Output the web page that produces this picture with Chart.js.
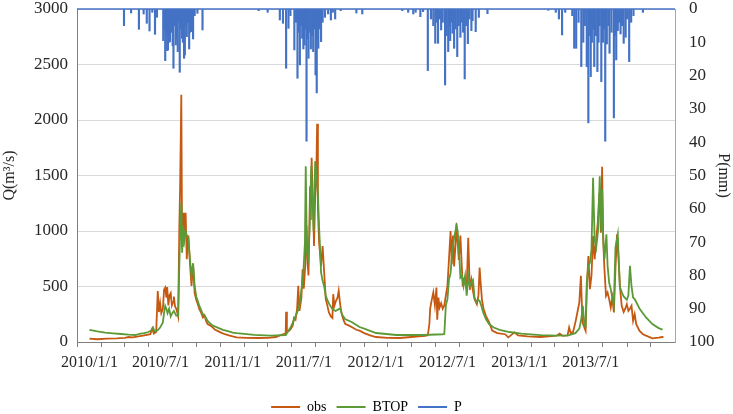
<!DOCTYPE html>
<html>
<head>
<meta charset="utf-8">
<script src="https://cdn.jsdelivr.net/npm/chart.js@4.4.0/dist/chart.umd.min.js"></script>
<style>
  html, body { margin: 0; padding: 0; background: #fff; }
  #wrap { width: 733px; height: 414px; }
</style>
</head>
<body>
<div id="wrap"><canvas id="c"></canvas></div>
<script>
// days counted from 2010/1/1
const obsDay = [0,20,45,70,90,100,110,125,140,155,160,164,170,174,177,180,183,187,190,193,196,198,201,204,207,210,213,215,218,221,224,226,229,231,234,236,238,240,242,245,248,250,252,256,260,264,268,272,276,280,285,289,293,297,301,307,313,320,325,335,345,355,365,
  375,400,430,455,475,485,495,500,501,503,508,513,518,521,525,529,532,535,537,540,543,546,550,553,556,558,562,564,566,568,570,572,575,578,580,582,585,588,590,594,598,602,606,610,615,619,621,624,628,632,635,638,641,644,648,652,660,668,680,688,700,715,730,760,790,
  820,840,855,862,866,868,872,876,880,884,886,889,892,896,900,904,908,912,916,920,923,926,929,933,935,938,941,945,947,951,953,957,961,965,969,973,977,981,987,991,994,996,1000,1004,1010,1018,1026,1039,1059,1067,1083,1092,1116,1149,1170,1190,1198,1206,1218,1222,1226,1232,1238,1243,1248,1252,1256,1261,1264,1267,1271,1275,1279,1283,1287,1291,1295,1299,1303,1306,1309,1312,1316,1320,1324,1328,1332,1336,1340,1344,1348,1352,1356,1361,1365,1369,1373,1377,1381,1385,1389,1393,1401,1410,1418,1434,1450,1459,1460];
const obsQ = [30,25,30,32,38,45,42,50,60,70,120,75,90,460,270,350,260,300,470,490,400,495,330,420,440,330,360,410,320,300,260,230,1045,1400,2228,865,1000,1165,1000,1165,745,900,960,710,505,700,440,380,340,296,260,221,240,190,162,150,135,110,102,85,70,60,50,
  42,38,36,38,45,60,70,80,272,90,100,117,150,216,200,300,506,280,326,400,655,480,700,1045,700,600,1404,1100,1659,1400,1224,865,1300,1500,1967,1195,895,775,686,865,626,386,330,266,230,216,431,326,371,400,461,360,280,236,190,162,150,135,110,102,80,60,45,38,36,
  45,50,55,60,162,300,380,446,330,491,200,400,310,350,300,330,420,506,750,1000,700,960,680,900,1069,900,740,960,800,500,560,530,480,940,470,560,460,386,340,420,671,560,380,300,236,180,102,80,70,42,87,60,50,45,50,57,75,55,60,132,80,90,177,266,356,596,177,130,102,476,775,476,600,955,745,925,1075,1344,985,1578,900,656,416,446,386,311,400,266,656,970,740,476,326,270,300,341,280,300,326,191,251,161,102,70,57,33,40,45,55];

const simDay = [0,20,40,60,80,100,117,130,140,150,156,162,166,170,175,180,187,190,193,196,199,203,207,211,215,221,226,229,232,234,236,239,242,245,248,252,256,260,264,268,272,280,289,295,301,313,325,340,355,365,
  375,420,460,480,500,513,521,529,533,537,541,545,549,551,554,558,561,565,568,571,575,579,582,585,588,590,594,598,602,606,611,619,627,635,639,643,651,668,688,700,730,782,850,900,904,
  908,912,916,920,924,929,935,938,942,945,949,953,957,961,965,969,973,977,981,986,990,994,998,1003,1010,1018,1030,1045,1070,1100,1150,1190,1220,1238,1248,1253,1257,1261,1264,1267,1271,1275,1279,1283,1287,1291,1296,1300,1304,1306,1309,1312,1317,1320,1324,1328,1332,1336,1340,1346,1351,1357,1361,1369,1373,1377,1381,1385,1389,1393,1402,1418,1434,1450,1460];
const simQ = [110,95,85,78,72,66,63,75,80,90,100,132,95,100,110,130,177,260,326,300,260,300,230,260,280,237,237,700,1100,1255,805,1045,920,1000,960,930,745,596,710,505,410,326,250,230,190,150,132,110,95,85,
  80,65,58,60,63,135,200,266,300,386,500,626,900,1584,805,745,1036,1584,1300,1000,1629,1500,1344,1036,805,626,551,500,416,380,341,296,280,296,302,251,207,180,135,120,81,63,63,70,72,
  330,386,566,620,800,940,1045,1000,800,580,596,506,596,417,596,500,540,560,400,360,380,370,330,266,207,162,130,110,90,75,62,57,60,80,120,207,326,147,140,536,686,715,835,1479,925,850,1015,1494,1000,1374,926,745,970,686,536,476,400,330,850,970,500,440,410,380,420,686,500,401,386,360,296,221,162,125,111];

const rainDay = [88,106,126,138,146,153,160,167,172,188,190,193,196,198,200,203,205,208,210,212,214,217,220,222,225,227,230,233,236,238,241,243,245,248,251,254,256,257,260,262,264,268,275,288,
  431,454,485,493,501,507,512,522,526,530,533,536,539,542,545,548,550,553,556,558,561,564,567,570,573,576,579,581,583,586,590,594,600,608,615,620,626,640,680,695,
  797,812,825,831,843,850,862,870,876,881,884,888,892,896,900,906,910,914,917,919,922,925,929,933,937,941,945,948,952,956,960,964,968,973,976,984,992,1014,
  1169,1188,1196,1204,1212,1230,1235,1240,1246,1253,1258,1262,1267,1271,1274,1277,1280,1283,1286,1290,1294,1297,1300,1304,1308,1311,1314,1318,1322,1325,1330,1336,1339,1342,1346,1349,1353,1357,1361,1366,1370,1375,1380,1386,1410];
const rainP = [5.0,1.2,6.1,1.5,4.3,6.6,1.0,7.6,2.5,9.5,6,15.5,8,12.5,12.3,10,9.8,7,4,11,17.8,5,10.8,9,12.8,4,19,6,8.8,10,14.8,13.8,5,8.3,4,12,7,3,6.8,4,9,2,1.3,6.3,
  0.5,1,3.3,4.3,17.8,5.8,2,12.3,4,20.8,7,16.8,5,8.8,12,10.8,6,39.7,9,14.8,7,12,8,12.8,6,19.8,25.2,9,11.8,6,9.8,4,2.5,1.5,3.3,1,3,0.5,1.2,1.5,
  0.5,1,1.5,1,2.3,0.8,18.5,3,5,10.3,4,10.3,3,6.3,4,22.8,8,12.8,5,9.5,4,7.3,11.8,6,14.3,5,8.5,4,7,21,5,10.4,3,6.5,3.5,6.8,2.5,1.4,
  0.4,1,3,7.8,1,2,11.8,11.8,4,17.3,10,5,17.3,34.2,8,20.3,10,6,17.3,8,18.8,10,5,21.8,10,6,39.7,10.5,5,13.3,7,32.7,8,15.3,6.5,4,7.5,5,10.3,8.5,3,15.8,4,2,1];

const seriesNames = ["obs", "BTOP", "P"];
const seriesColors = ["#C65911", "#5B9A36", "#4472C4"];

const START = Date.UTC(2010, 0, 1);
function dayOf(y, m) { return Math.round((Date.UTC(y, m, 1) - START) / 86400000); }
const xTicks = [];
for (let y = 2010; y <= 2013; y++) {
  for (let m = 0; m < 12; m += 2) xTicks.push({ value: dayOf(y, m) });
}

const pairs = (xs, ys) => xs.map((x, i) => ({ x: x, y: ys[i] }));
const serif = "'Liberation Serif', 'Times New Roman', serif";
const txt = "#262626";

// the P series' zero line along the top of the plot
const rainBaseline = {
  id: "rainBaseline",
  afterDatasetsDraw(chart) {
    const { ctx, chartArea, scales } = chart;
    const y = scales.yP.getPixelForValue(0);
    ctx.save();
    ctx.strokeStyle = seriesColors[2];
    ctx.lineWidth = 1.5;
    ctx.beginPath();
    ctx.moveTo(chartArea.left, y);
    ctx.lineTo(chartArea.right, y);
    ctx.stroke();
    ctx.restore();
  }
};

const noEdgePad = (axis, w) => {
  axis.width = w;
  axis.paddingTop = 0;
  axis.paddingBottom = 0;
};

new Chart(document.getElementById("c"), {
  type: "line",
  data: {
    datasets: [
      { label: seriesNames[0], data: pairs(obsDay, obsQ), borderColor: seriesColors[0], backgroundColor: seriesColors[0],
        borderWidth: 1.8, pointRadius: 0, yAxisID: "y", order: 2 },
      { label: seriesNames[1], data: pairs(simDay, simQ), borderColor: seriesColors[1], backgroundColor: seriesColors[1],
        borderWidth: 1.8, pointRadius: 0, yAxisID: "y", order: 1 },
      { type: "bar", label: seriesNames[2], data: pairs(rainDay, rainP), borderColor: seriesColors[2], backgroundColor: seriesColors[2],
        borderWidth: 0, barThickness: 1.5, yAxisID: "yP", order: 3 }
    ]
  },
  options: {
    responsive: true,
    maintainAspectRatio: false,
    animation: false,
    layout: { padding: { top: 9, bottom: -10 } },
    plugins: {
      tooltip: { enabled: false },
      legend: {
        position: "bottom",
        labels: {
          font: { family: serif, size: 14 },
          color: txt,
          usePointStyle: true,
          pointStyleWidth: 29,
          padding: 10,
          generateLabels: (chart) => chart.data.datasets.map((ds, i) => ({
            text: ds.label, fillStyle: seriesColors[i], strokeStyle: seriesColors[i],
            lineWidth: 2, pointStyle: "line", datasetIndex: i, hidden: false
          }))
        }
      }
    },
    scales: {
      x: {
        type: "linear",
        min: 0,
        max: 1460,
        afterBuildTicks: (axis) => { axis.ticks = xTicks.map(t => ({ value: t.value })); },
        afterFit: (axis) => { axis.height = 48; },
        ticks: {
          autoSkip: false, maxRotation: 0, color: txt, padding: 6,
          font: { family: serif, size: 16 },
          callback: (v) => {
            const d = new Date(START + v * 86400000);
            const m = d.getUTCMonth();
            return (m === 0 || m === 6) ? d.getUTCFullYear() + "/" + (m + 1) + "/1" : "";
          }
        },
        grid: { drawOnChartArea: false, drawTicks: true, tickLength: 5, color: "#7f7f7f" },
        border: { color: "#7f7f7f", width: 1 }
      },
      y: {
        position: "left",
        min: 0, max: 3000,
        afterFit: (axis) => noEdgePad(axis, 77),
        ticks: { stepSize: 500, color: txt, font: { family: serif, size: 17 }, padding: 9, callback: (v) => String(v) },
        grid: { color: "#d9d9d9", drawTicks: false },
        border: { color: "#7f7f7f", width: 1 },
        title: { display: true, text: "Q(m³/s)", color: txt, font: { family: serif, size: 16 }, padding: 0 }
      },
      yP: {
        position: "right",
        reverse: true,
        min: 0, max: 100,
        afterFit: (axis) => noEdgePad(axis, 58),
        ticks: { stepSize: 10, color: txt, font: { family: serif, size: 17 }, padding: 14, callback: (v) => String(v) },
        grid: { drawOnChartArea: false, drawTicks: false },
        border: { color: "#a6a6a6", width: 1 },
        title: { display: true, text: "P(mm)", color: txt, font: { family: serif, size: 16 }, padding: 0 }
      }
    }
  },
  plugins: [rainBaseline]
});
</script>
</body>
</html>
